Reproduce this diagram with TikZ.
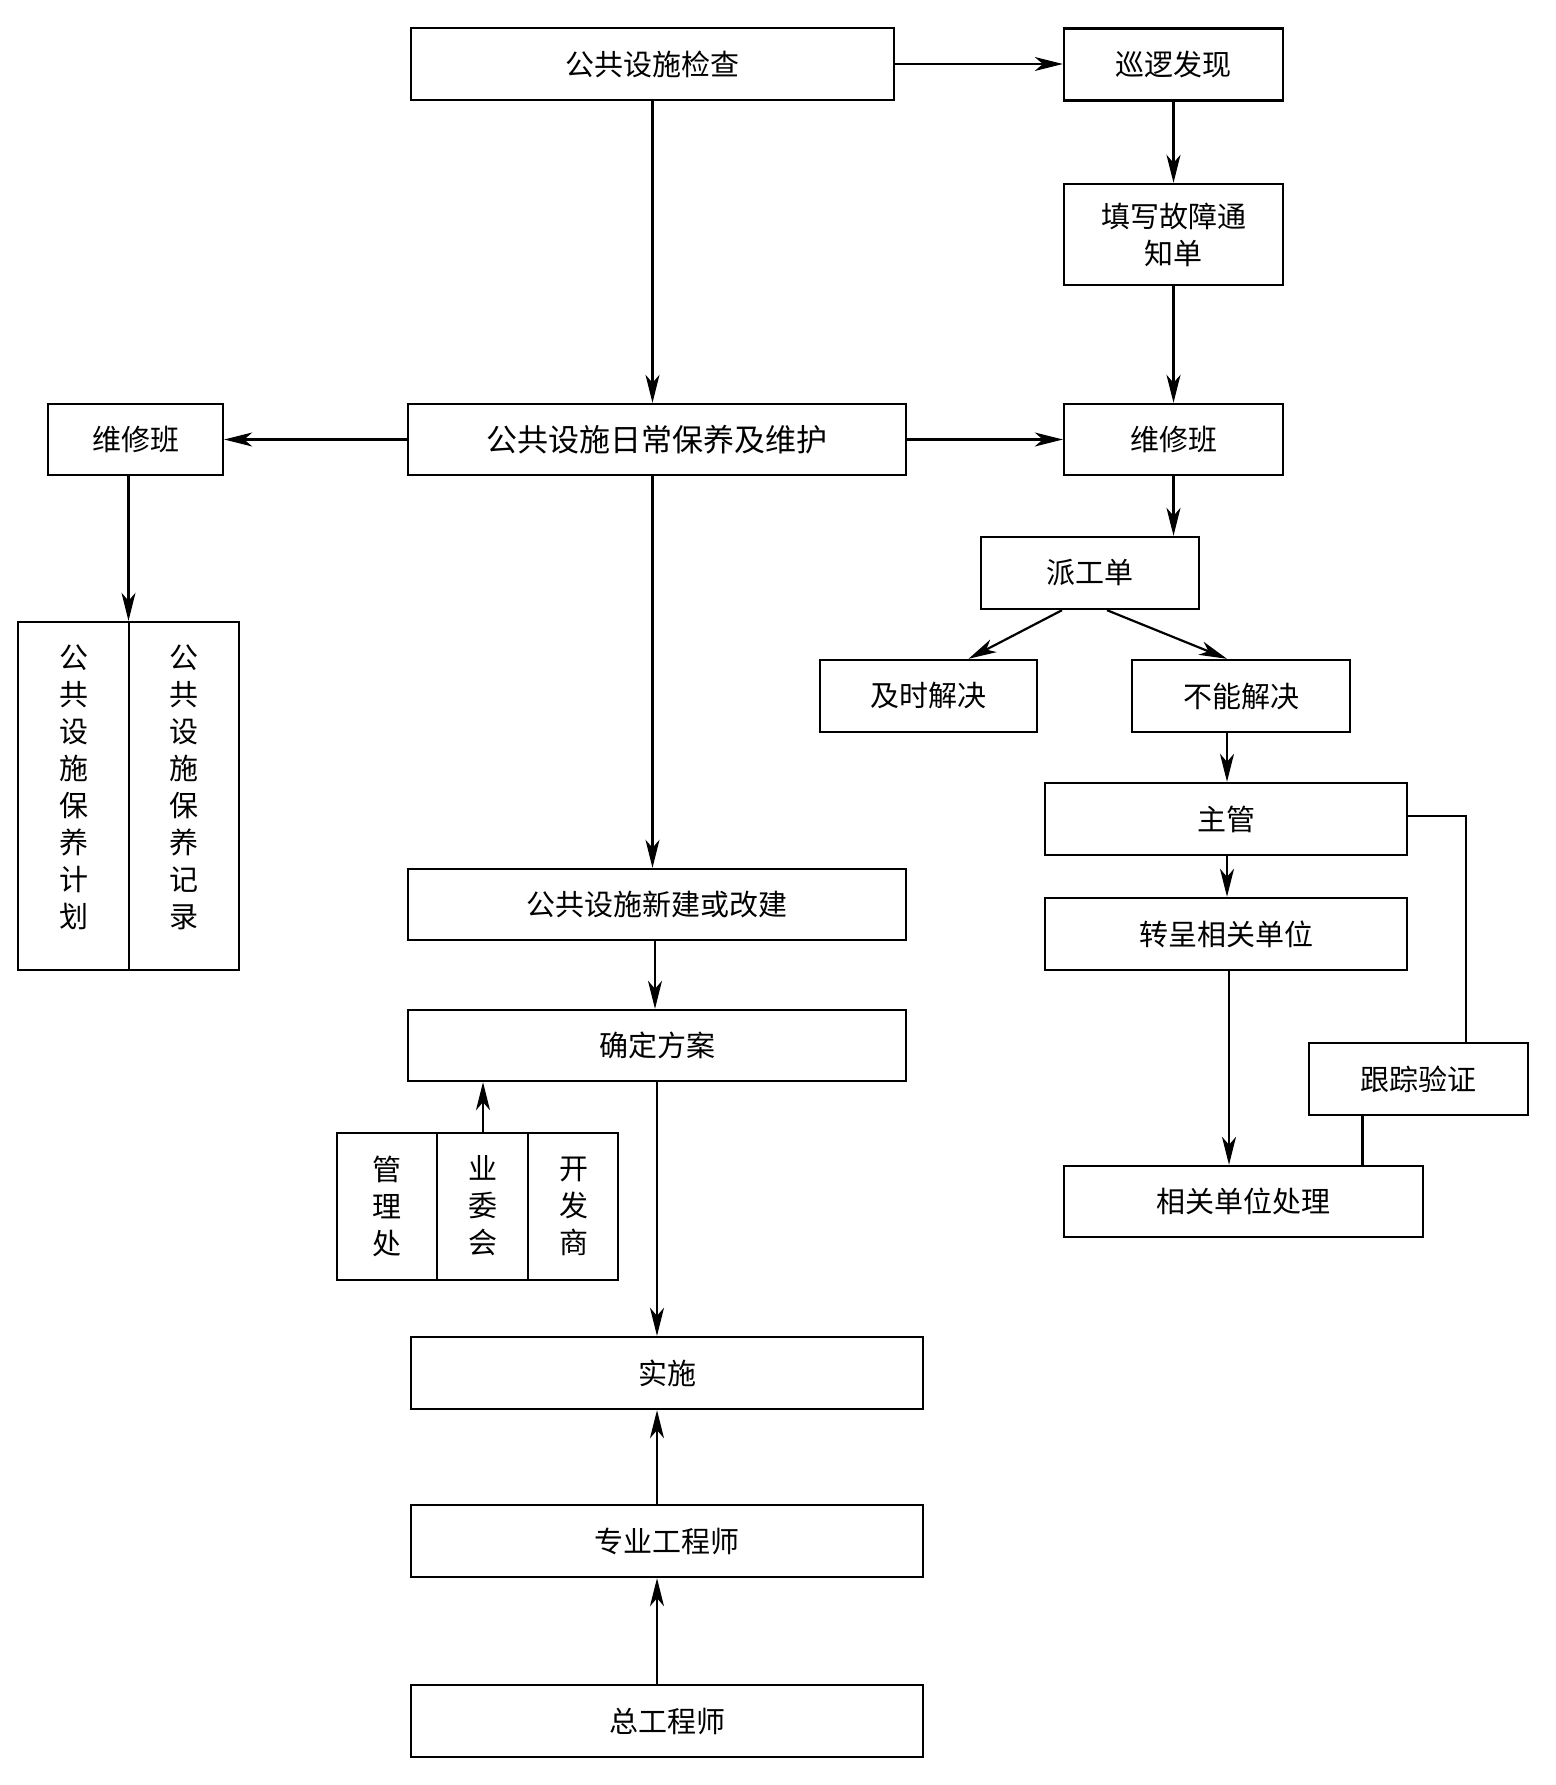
\documentclass[tikz,border=0pt]{standalone}
\usepackage{fontspec}
\setmainfont{Noto Sans CJK SC}
\usetikzlibrary{arrows.meta}
\begin{document}
\begin{tikzpicture}[x=1pt,y=-1pt,
  box/.style={draw, line width=2.4pt, inner sep=0pt, font=\fontsize{29pt}{37pt}\selectfont, align=center},
  conn/.style={line width=2.2pt},
  arr/.style={conn, -{Stealth[length=28pt,width=14pt,inset=8pt]}}]
\useasboundingbox[fill=white] (0,0) rectangle (1555,1785);
% top chain
\node[box, minimum width=483pt, minimum height=72pt] (jc) at (652.5,64) {公共设施检查};
\node[box, minimum width=219pt, minimum height=72pt] (xl) at (1173.5,64.5) {巡逻发现};
\node[box, minimum width=219pt, minimum height=101pt] (tx) at (1173.5,234.5) {填写故障通\\知单};
\node[box, minimum width=175pt, minimum height=71pt] (wxl) at (135.5,439.5) {维修班};
\node[box, minimum width=498pt, minimum height=71pt, font=\fontsize{31pt}{37pt}\selectfont] (rc) at (657,439.5) {公共设施日常保养及维护};
\node[box, minimum width=219pt, minimum height=71pt] (wxr) at (1173.5,439.5) {维修班};
\node[box, minimum width=218pt, minimum height=72pt] (pg) at (1090,573) {派工单};
\node[box, minimum width=217pt, minimum height=72pt] (js) at (928.5,696) {及时解决};
\node[box, minimum width=218pt, minimum height=72pt] (bn) at (1241,696) {不能解决};
\node[box, minimum width=362pt, minimum height=72pt] (zg) at (1226,819) {主管};
\node[box, minimum width=362pt, minimum height=72pt] (zc) at (1226,934) {转呈相关单位};
\node[box, minimum width=219pt, minimum height=72pt] (gz) at (1418.5,1079) {跟踪验证};
\node[box, minimum width=359pt, minimum height=71pt] (xg) at (1243.5,1201.5) {相关单位处理};
% left record box
\node[box, minimum width=221pt, minimum height=348pt] (lb) at (128.5,796) {};
\draw[line width=2pt] (lb.north) -- (lb.south);
\node[box, draw=none] (lbt1) at (74,787) {公\\共\\设\\施\\保\\养\\计\\划};
\node[box, draw=none] (lbt2) at (184,787) {公\\共\\设\\施\\保\\养\\记\\录};
% middle chain
\node[box, minimum width=498pt, minimum height=71pt] (xj) at (657,904.5) {公共设施新建或改建};
\node[box, minimum width=498pt, minimum height=71pt] (qd) at (657,1045.5) {确定方案};
\node[box, minimum width=281pt, minimum height=147pt] (sl) at (477.5,1206.5) {};
\coordinate (d1t) at (437,1133); \coordinate (d1b) at (437,1280);
\coordinate (d2t) at (528,1133); \coordinate (d2b) at (528,1280);
\draw[line width=2pt] (d1t) -- (d1b) (d2t) -- (d2b);
\node[box, draw=none] (glc) at (387,1206) {管\\理\\处};
\node[box, draw=none] (ywh) at (483,1206) {业\\委\\会};
\node[box, draw=none] (kfs) at (574,1206) {开\\发\\商};
\node[box, minimum width=512pt, minimum height=72pt] (ss) at (667,1373) {实施};
\node[box, minimum width=512pt, minimum height=72pt] (zy) at (667,1541) {专业工程师};
\node[box, minimum width=512pt, minimum height=72pt] (zz) at (667,1721) {总工程师};
% helper coordinates
\coordinate (zcb) at ([xshift=3pt]zc.south);
\coordinate (gzb) at ([xshift=-56pt]gz.south);
\coordinate (zgr) at (1466,816);
% connectors
\draw[arr] (jc.east) -- (xl.west |- jc.east);
\draw[arr] (jc.south) -- (rc.north -| jc.south);
\draw[arr] (xl.south) -- (tx.north);
\draw[arr] (tx.south) -- (wxr.north);
\draw[arr] (rc.west) -- (wxl.east);
\draw[arr] (rc.east) -- (wxr.west);
\draw[arr] (wxl.south -| lb.north) -- (lb.north);
\draw[arr] (wxr.south) -- (pg.north -| wxr.south);
\draw[arr] ([xshift=-28pt]pg.south) -- ([xshift=40pt]js.north);
\draw[arr] ([xshift=17pt]pg.south) -- ([xshift=-14pt]bn.north);
\draw[arr] ([xshift=-14pt]bn.south) -- ([xshift=1pt]zg.north);
\draw[arr] ([xshift=1pt]zg.south) -- ([xshift=1pt]zc.north);
\draw[arr] (zcb) -- (xg.north -| zcb);
\draw[conn] (zg.east |- zgr) -- (zgr) -- (gz.north -| zgr);
\draw[conn] (gzb) -- (xg.north -| gzb);
\draw[arr] (rc.south -| jc.south) -- (xj.north -| jc.south);
\draw[arr] ([xshift=-2pt]xj.south) -- ([xshift=-2pt]qd.north);
\draw[arr] (sl.north -| ywh) -- (qd.south -| ywh);
\draw[arr] (qd.south) -- (ss.north -| qd.south);
\draw[arr] (zy.north -| qd.south) -- (ss.south -| qd.south);
\draw[arr] (zz.north -| qd.south) -- (zy.south -| qd.south);
\end{tikzpicture}
\end{document}
